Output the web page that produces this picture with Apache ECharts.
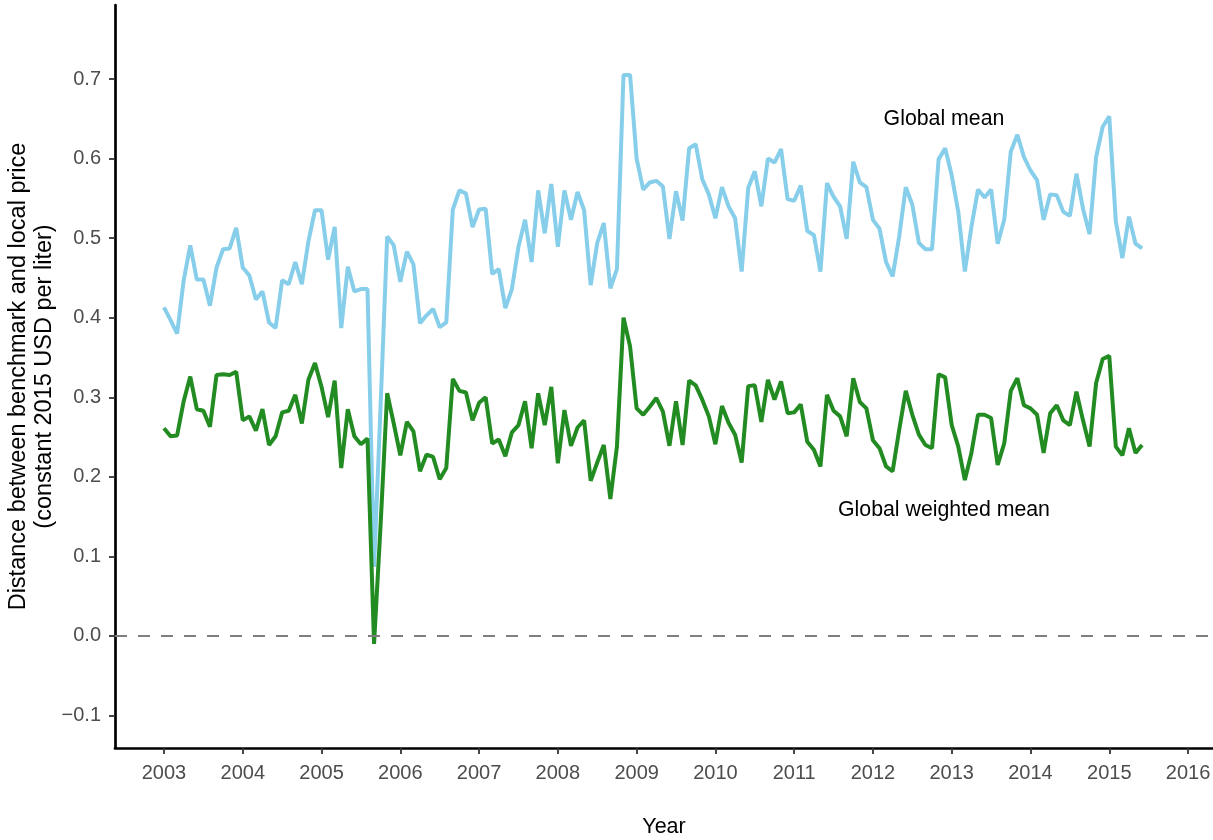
<!DOCTYPE html>
<html>
<head>
<meta charset="utf-8">
<script src="https://cdn.jsdelivr.net/npm/echarts@6/dist/echarts.min.js"></script>
<style>html,body{margin:0;padding:0;background:#fff}#c{width:1213px;height:840px}</style>
</head>
<body>
<div id="c"></div>
<script>
// Monthly series, Jan 2003 .. Jun 2015
const startYear = 2003;
const globalMean = [
0.413,0.397,0.380,0.447,0.491,0.448,0.448,0.415,0.463,0.486,0.487,0.513,
0.463,0.453,0.423,0.433,0.394,0.387,0.447,0.442,0.470,0.442,0.496,0.535,
0.535,0.473,0.514,0.387,0.464,0.433,0.436,0.436,0.087,0.290,0.502,0.491,
0.445,0.483,0.467,0.393,0.403,0.411,0.388,0.394,0.536,0.560,0.556,0.514,
0.536,0.537,0.455,0.461,0.412,0.436,0.489,0.523,0.470,0.560,0.506,0.568,
0.489,0.560,0.523,0.558,0.535,0.441,0.494,0.519,0.437,0.461,0.705,0.705,
0.600,0.561,0.570,0.572,0.565,0.499,0.559,0.522,0.613,0.618,0.574,0.555,
0.525,0.564,0.540,0.525,0.458,0.563,0.584,0.540,0.600,0.595,0.612,0.549,
0.547,0.566,0.509,0.504,0.458,0.569,0.552,0.540,0.499,0.596,0.570,0.564,
0.523,0.512,0.470,0.452,0.502,0.564,0.542,0.494,0.486,0.486,0.599,0.613,
0.579,0.533,0.458,0.514,0.561,0.551,0.561,0.493,0.523,0.609,0.630,0.602,
0.585,0.573,0.523,0.555,0.554,0.533,0.528,0.581,0.537,0.505,0.602,0.640,
0.653,0.521,0.475,0.527,0.493,0.487
];
const globalWeightedMean = [
0.261,0.251,0.252,0.295,0.326,0.285,0.283,0.263,0.328,0.329,0.328,0.332,
0.271,0.276,0.258,0.285,0.240,0.251,0.281,0.283,0.303,0.267,0.322,0.343,
0.313,0.275,0.321,0.211,0.285,0.251,0.241,0.248,-0.010,0.140,0.305,0.267,
0.227,0.269,0.257,0.207,0.228,0.225,0.197,0.211,0.323,0.308,0.306,0.271,
0.293,0.300,0.242,0.247,0.226,0.256,0.265,0.295,0.236,0.305,0.265,0.313,
0.217,0.284,0.239,0.262,0.271,0.195,0.218,0.240,0.172,0.238,0.400,0.364,
0.286,0.278,0.288,0.299,0.282,0.239,0.295,0.240,0.321,0.315,0.297,0.276,
0.241,0.289,0.268,0.253,0.218,0.314,0.315,0.269,0.322,0.297,0.320,0.280,
0.281,0.291,0.244,0.234,0.213,0.303,0.283,0.276,0.251,0.324,0.294,0.286,
0.246,0.236,0.213,0.207,0.259,0.308,0.278,0.253,0.240,0.236,0.329,0.325,
0.265,0.238,0.196,0.230,0.278,0.278,0.274,0.215,0.242,0.308,0.324,0.290,
0.286,0.278,0.230,0.280,0.290,0.271,0.265,0.307,0.271,0.238,0.318,0.348,
0.352,0.238,0.227,0.261,0.230,0.240
];
const xTicks = [2003,2004,2005,2006,2007,2008,2009,2010,2011,2012,2013,2014,2015,2016];
const yTicks = [-0.1,0,0.1,0.2,0.3,0.4,0.5,0.6,0.7];

const toPairs = arr => arr.map((v, i) => [startYear + i / 12, v]);
const FONT = '"Liberation Sans", Arial, sans-serif';

const chart = echarts.init(document.getElementById('c'));
chart.setOption({
  animation: false,
  backgroundColor: '#fff',
  grid: { left: 115, right: 0, top: 5, bottom: 92, outerBoundsMode: 'none', containLabel: false },
  xAxis: {
    type: 'value', min: 2002.378, max: 2016.317,
    name: 'Year', nameLocation: 'middle', nameGap: 68, nameMoveOverlap: false,
    nameTextStyle: { color: '#000', fontSize: 21.5, fontFamily: FONT },
    axisLine: { show: true, onZero: false, lineStyle: { color: '#000', width: 2.7 } },
    axisTick: { show: true, customValues: xTicks, length: 6, lineStyle: { color: '#333', width: 1.8 } },
    axisLabel: { customValues: xTicks, color: '#4d4d4d', fontSize: 20, fontFamily: FONT, margin: 15,
      formatter: v => String(Math.round(v)) },
    splitLine: { show: false }
  },
  yAxis: {
    type: 'value', min: -0.1408, max: 0.793,
    name: 'Distance between benchmark and local price\n(constant 2015 USD per liter)',
    nameLocation: 'middle', nameGap: 57, nameRotate: 90, nameMoveOverlap: false,
    nameTextStyle: { color: '#000', fontSize: 23.5, lineHeight: 26, fontFamily: FONT, align: 'center' },
    axisLine: { show: true, onZero: false, lineStyle: { color: '#000', width: 2.7 } },
    axisTick: { show: true, customValues: yTicks, length: 6, lineStyle: { color: '#333', width: 1.8 } },
    axisLabel: { customValues: yTicks, color: '#4d4d4d', fontSize: 20, fontFamily: FONT, margin: 14,
      formatter: v => v.toFixed(1).replace('-', '\u2212') },
    splitLine: { show: false }
  },
  series: [
    {
      name: 'Global mean', type: 'line', data: toPairs(globalMean),
      showSymbol: false, symbol: 'none',
      lineStyle: { color: '#87CEEB', width: 4 },
      markLine: {
        silent: true, symbol: 'none', label: { show: false },
        lineStyle: { color: '#7f7f7f', width: 2, type: [12, 11] },
        data: [{ yAxis: 0 }]
      },
      z: 2
    },
    {
      name: 'Global weighted mean', type: 'line', data: toPairs(globalWeightedMean),
      showSymbol: false, symbol: 'none',
      lineStyle: { color: '#228B22', width: 4 },
      z: 3
    }
  ],
  graphic: [
    { type: 'text', x: 944, y: 119, style: { text: 'Global mean', fill: '#000', font: '21.3px ' + FONT, textAlign: 'center', textVerticalAlign: 'middle' } },
    { type: 'text', x: 944, y: 510, style: { text: 'Global weighted mean', fill: '#000', font: '21.3px ' + FONT, textAlign: 'center', textVerticalAlign: 'middle' } }
  ]
});
</script>
</body>
</html>
